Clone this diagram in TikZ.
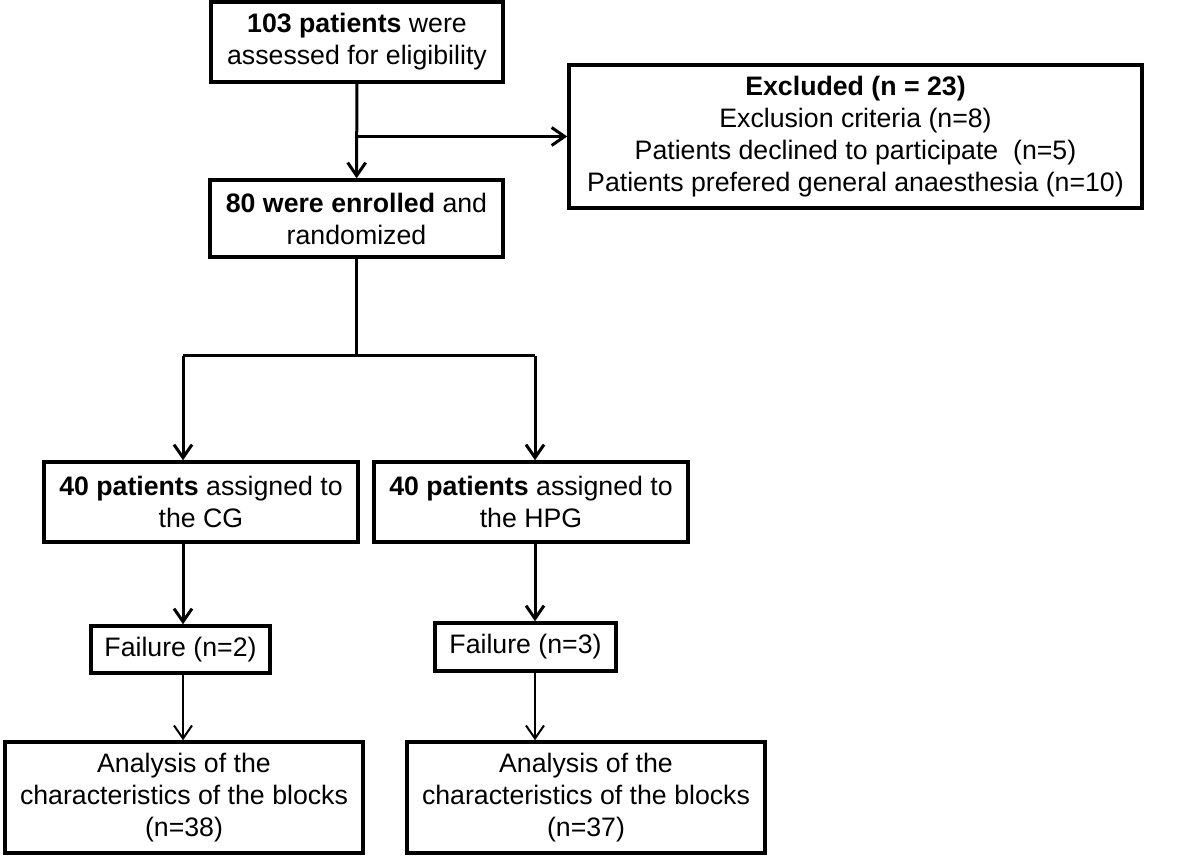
\documentclass[tikz,border=0pt]{standalone}
\usepackage{fontspec}
\setmainfont{Liberation Sans}
\usetikzlibrary{arrows.meta}

\begin{document}
\begin{tikzpicture}[x=1pt, y=-1pt,
	box/.style = {draw, line width=3.5pt, align=center, inner sep=0pt,
		font=\fontsize{26.7}{32}\selectfont},
	link/.style = {line width=3pt},
	arrowlink/.style = {link, -{Straight Barb[length=13pt, width=18pt]}},
	thinlink/.style = {line width=2pt, -{Straight Barb[length=13pt, width=18pt]}}]
\useasboundingbox (0, 0) rectangle (1179, 858);

\node[box, minimum width=292, minimum height=80] (assessed) at (357, 42)
	{\textbf{103 patients} were\\assessed for eligibility};
\node[box, minimum width=293, minimum height=77] (enrolled) at (356.5, 218.5)
	{\textbf{80 were enrolled} and\\randomized};
\node[box, minimum width=573, minimum height=143] (excluded) at (855.5, 136.5)
	{\textbf{Excluded (n = 23)}\\Exclusion criteria (n=8)\\
	 Patients declined to participate\ \ (n=5)\\
	 Patients prefered general anaesthesia (n=10)};
\node[box, minimum width=314, minimum height=80] (cg) at (201, 502)
	{\textbf{40 patients} assigned to\\the CG};
\node[box, minimum width=314, minimum height=80] (hpg) at (531, 502)
	{\textbf{40 patients} assigned to\\the HPG};
\node[box, minimum width=179, minimum height=47] (failcg) at (180.5, 649.5)
	{Failure (n=2)};
\node[box, minimum width=181, minimum height=48] (failhpg) at (525.5, 647)
	{Failure (n=3)};
\node[box, minimum width=358, minimum height=111] (analysiscg) at (184, 797.5)
	{Analysis of the\\characteristics of the blocks\\(n=38)};
\node[box, minimum width=358, minimum height=111] (analysishpg) at (586, 797.5)
	{Analysis of the\\characteristics of the blocks\\(n=37)};

\coordinate (branch) at (357, 136.5);
\coordinate (split) at (356.5, 356);
\coordinate (left) at (183, 356);
\coordinate (right) at (535, 356);

\draw[arrowlink] (assessed) -- (enrolled);
\draw[arrowlink] (branch) -- (excluded);
\draw[link] (enrolled) -- (split);
\draw[link] (left) -- (right);
\draw[arrowlink] (left) -- (left |- cg.north);
\draw[arrowlink] (right) -- (right |- hpg.north);
\draw[arrowlink] (cg.south -| left) -- (left |- failcg.north);
\draw[arrowlink] (hpg.south -| right) -- (right |- failhpg.north);
\draw[thinlink] (failcg.south -| left) -- (left |- analysiscg.north);
\draw[thinlink] (failhpg.south -| right) -- (right |- analysishpg.north);
\end{tikzpicture}
\end{document}
